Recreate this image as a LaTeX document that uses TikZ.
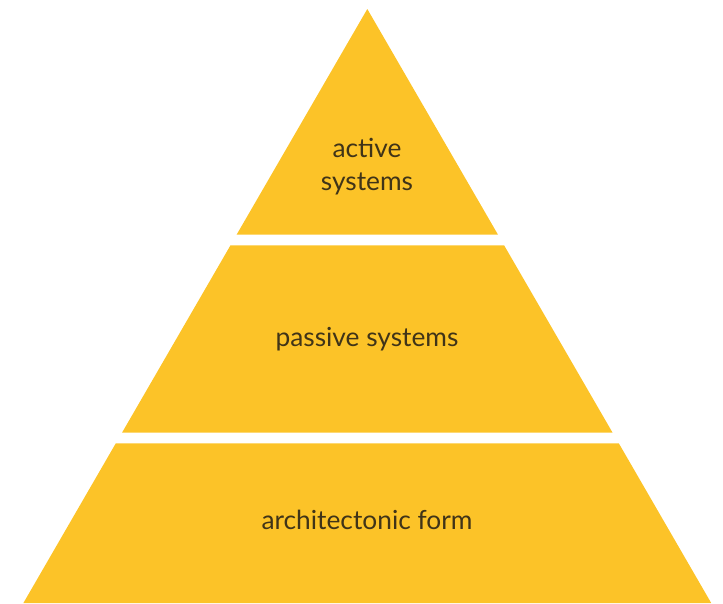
\documentclass[tikz,border=0pt]{standalone}
\usepackage{fontspec}
\setmainfont{Lato}
\definecolor{pyr}{RGB}{252,195,40}
\definecolor{txt}{RGB}{64,52,24}
\begin{document}
\begin{tikzpicture}[x=1pt,y=-1pt,
  tier/.style={fill=pyr,draw=none},
  lbl/.style={text=txt,font=\fontsize{26.3}{33}\selectfont,align=center,inner sep=0pt,anchor=base}]
\useasboundingbox (0,0) rectangle (723,603);
\fill[tier] (367.3,9) -- (498.0,234.7) -- (236.6,234.7) -- cycle;
\fill[tier] (230.5,245.3) -- (504.1,245.3) -- (612.6,432.7) -- (122.0,432.7) -- cycle;
\fill[tier] (115.8,443.3) -- (618.8,443.3) -- (711.2,603) -- (23.4,603) -- cycle;
\node[lbl] (top) at (367,190) {active\\systems};
\node[lbl] (mid) at (367,346) {passive systems};
\node[lbl] (bot) at (367,529) {architectonic form};
\end{tikzpicture}
\end{document}
